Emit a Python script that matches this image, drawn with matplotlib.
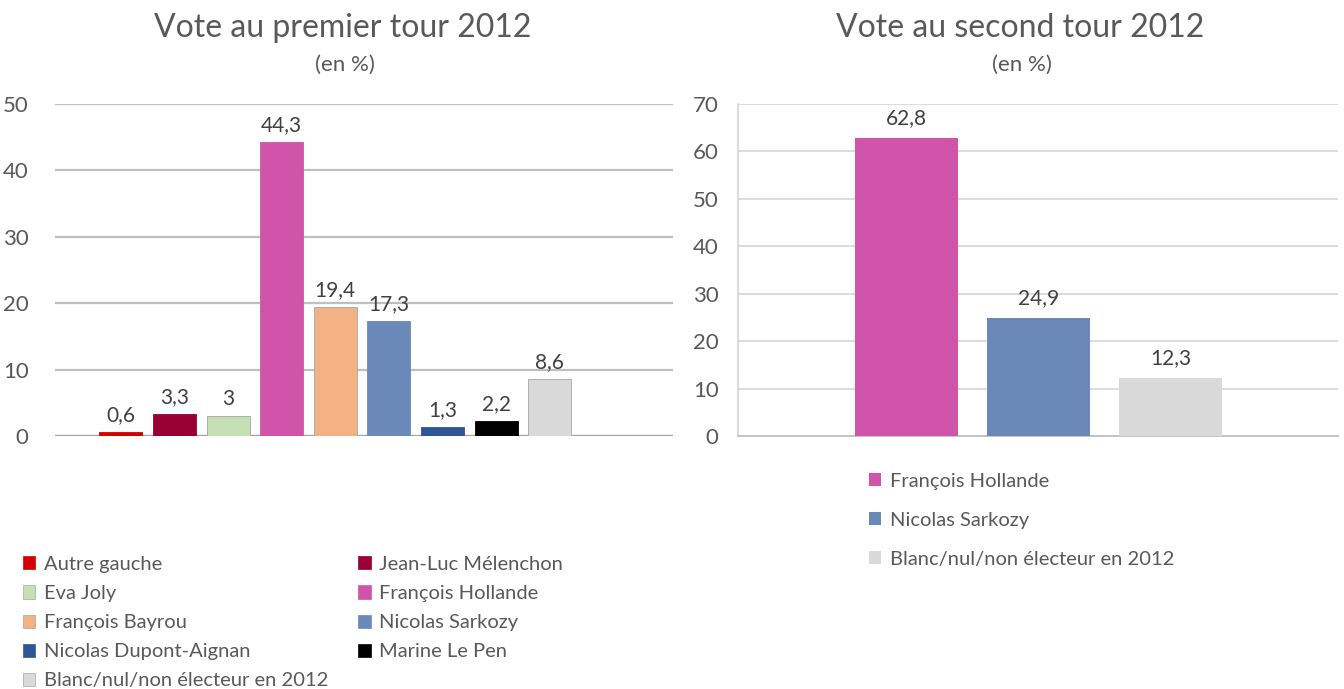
import matplotlib
matplotlib.use("Agg")
import matplotlib.pyplot as plt
from matplotlib.patches import Patch

plt.rcParams['font.family'] = ['Lato', 'DejaVu Sans']

# ---- data ----
candidates_t1 = ["Autre gauche", "Jean-Luc Mélenchon", "Eva Joly", "François Hollande",
                 "François Bayrou", "Nicolas Sarkozy", "Nicolas Dupont-Aignan",
                 "Marine Le Pen", "Blanc/nul/non électeur en 2012"]
values_t1 = [0.6, 3.3, 3.0, 44.3, 19.4, 17.3, 1.3, 2.2, 8.6]
labels_t1 = ["0,6", "3,3", "3", "44,3", "19,4", "17,3", "1,3", "2,2", "8,6"]
colors_t1 = ["#d40000", "#990033", "#c6e0b4", "#d054aa", "#f4b183", "#6a89b8",
             "#2f5597", "#000000", "#d9d9d9"]

candidates_t2 = ["François Hollande", "Nicolas Sarkozy", "Blanc/nul/non électeur en 2012"]
values_t2 = [62.8, 24.9, 12.3]
labels_t2 = ["62,8", "24,9", "12,3"]
colors_t2 = ["#d054aa", "#6a89b8", "#d9d9d9"]

W, H = 1344, 689
fig = plt.figure(figsize=(W / 100, H / 100), dpi=100)

def fx(px):
    return px / W

def fy(py):
    return 1 - py / H

tick_color = "#595959"
text_color = "#404040"

# ---- left chart ----
ax1 = fig.add_axes([fx(55), fy(436), fx(673 - 55), (436 - 104) / H])
x1 = list(range(len(values_t1)))
edge1 = ["#a6a6a6" if c in ("#c6e0b4", "#d9d9d9", "#f4b183") else c for c in colors_t1]
ax1.bar(x1, values_t1, width=0.8, color=colors_t1, edgecolor=edge1, linewidth=0.6, zorder=3)
ax1.set_xlim(-1.23, 10.3)
ax1.set_ylim(0, 50)
ax1.set_yticks(range(0, 51, 10))
for xi, v, lab in zip(x1, values_t1, labels_t1):
    ax1.annotate(lab, (xi, v), xytext=(0, 5), textcoords="offset points",
                 ha="center", va="bottom", fontsize=15, color=text_color)
ax1.grid(axis="y", color="#bfbfbf", linewidth=1.6, zorder=0)
ax1.set_xticks([])
for s in ["top", "right", "left", "bottom"]:
    ax1.spines[s].set_visible(False)
ax1.axhline(0, color="#a6a6a6", linewidth=1.6, zorder=2)
ax1.tick_params(axis="y", length=0, labelsize=16, labelcolor=tick_color, pad=19)

fig.text(fx(343), fy(28), "Vote au premier tour 2012", ha="center", va="center",
         fontsize=23, color=tick_color)
fig.text(fx(345), fy(65), "(en %)", ha="center", va="center", fontsize=16, color=tick_color)

# ---- right chart ----
ax2 = fig.add_axes([fx(738), fy(436), fx(1338 - 738), (436 - 104) / H])
x2 = list(range(len(values_t2)))
ax2.bar(x2, values_t2, width=0.78, color=colors_t2, zorder=3)
ax2.set_xlim(-1.276, 3.27)
ax2.set_ylim(0, 70)
ax2.set_yticks(range(0, 71, 10))
for xi, v, lab in zip(x2, values_t2, labels_t2):
    ax2.annotate(lab, (xi, v), xytext=(0, 7), textcoords="offset points",
                 ha="center", va="bottom", fontsize=15, color=text_color)
ax2.grid(axis="y", color="#d9d9d9", linewidth=1.3, zorder=0)
ax2.set_xticks([])
for s in ["top", "right"]:
    ax2.spines[s].set_visible(False)
ax2.spines["left"].set_color("#d9d9d9")
ax2.spines["left"].set_linewidth(1.3)
ax2.spines["bottom"].set_color("#bfbfbf")
ax2.spines["bottom"].set_linewidth(1.3)
ax2.tick_params(axis="y", length=0, labelsize=16, labelcolor=tick_color, pad=14)

fig.text(fx(1020), fy(28), "Vote au second tour 2012", ha="center", va="center",
         fontsize=23, color=tick_color)
fig.text(fx(1022), fy(65), "(en %)", ha="center", va="center", fontsize=16, color=tick_color)

# ---- legends ----
order = [0, 2, 4, 6, 8, 1, 3, 5, 7]
handles1 = [Patch(facecolor=colors_t1[i], edgecolor=edge1[i], linewidth=0.5) for i in order]
leg1 = fig.legend(handles1, [candidates_t1[i] for i in order], ncol=2,
                  loc="upper left", bbox_to_anchor=(fx(23), fy(556)),
                  frameon=False, fontsize=14.5, handlelength=0.62, handleheight=0.62,
                  handletextpad=0.4, labelspacing=0.6, columnspacing=1.5,
                  borderpad=0, borderaxespad=0)
for t in leg1.get_texts():
    t.set_color(tick_color)

handles2 = [Patch(facecolor=c) for c in colors_t2]
leg2 = fig.legend(handles2, candidates_t2, loc="upper left",
                  bbox_to_anchor=(fx(869), fy(473)), frameon=False, fontsize=14.5,
                  handlelength=0.62, handleheight=0.62, handletextpad=0.4,
                  labelspacing=1.08, borderpad=0, borderaxespad=0)
for t in leg2.get_texts():
    t.set_color(tick_color)

fig.savefig("out.png", dpi=100)
